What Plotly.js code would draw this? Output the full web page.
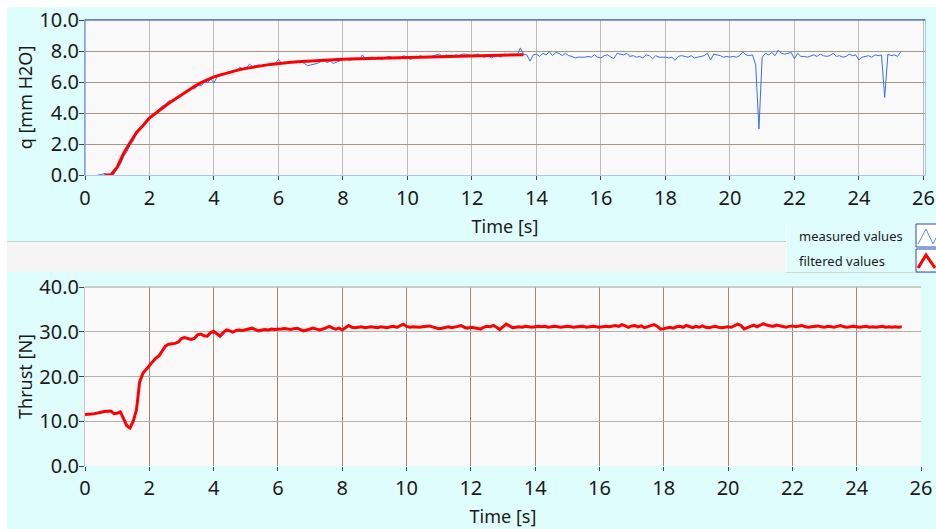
<!DOCTYPE html>
<html>
<head>
<meta charset="utf-8">
<script src="https://cdn.plot.ly/plotly-3.0.1.min.js"></script>
<style>html,body{margin:0;padding:0;background:#fff;}#chart{width:936px;height:529px;}</style>
</head>
<body>
<div id="chart"></div>
<script>
// ---- Data ----
// Pressure q [mm H2O], measured, sampled every 0.1 s starting at 0.4 s
const qMeasuredStart = 0.4;
const qMeasuredStep = 0.1;
const qMeasured = [
  0, 0.02, 0.1, 0, 0, 0.05,
  0.45, 0.7, 1.2, 1.5, 1.95, 2.2, 2.7, 3.05, 3.2, 3.5,
  3.65, 3.85, 4.1, 4.25, 4.45, 4.55, 4.8, 4.7, 4.95, 5.1,
  5.15, 5.35, 5.4, 5.6, 5.55, 5.85, 5.75, 6.0, 5.95, 6.2,
  5.95, 6.35, 6.45, 6.55, 6.6, 6.65, 6.75, 6.7, 6.95, 6.85,
  6.9, 7.15, 7.0, 7.05, 7.1, 7.0, 7.1, 7.15, 7.1, 7.2,
  7.45, 7.2, 7.25, 7.2, 7.3, 7.25, 7.35, 7.3, 7.2, 7.05,
  7.1, 7.15, 7.2, 7.3, 7.45, 7.25, 7.35, 7.2, 7.3, 7.4,
  7.45, 7.5, 7.4, 7.45, 7.55, 7.45, 7.75, 7.5, 7.55, 7.6,
  7.5, 7.6, 7.45, 7.55, 7.65, 7.6, 7.5, 7.55, 7.6, 7.7,
  7.55, 7.45, 7.6, 7.55, 7.7, 7.6, 7.65, 7.6, 7.7, 7.75,
  7.8, 7.6, 7.75, 7.7, 7.65, 7.75, 7.7, 7.8, 7.8, 7.75,
  7.7, 7.75, 7.8, 7.65, 7.6, 7.7, 7.55, 7.65, 7.7, 7.6,
  7.8, 7.75, 7.7, 7.75, 7.7, 8.2, 7.8, 7.75, 7.35, 7.75,
  7.8, 7.65, 7.85, 7.75, 7.95, 7.7, 7.9, 7.85, 7.7, 7.85,
  7.7, 7.65, 7.55, 7.6, 7.6, 7.6, 7.65, 7.6, 7.75, 7.6,
  7.55, 7.7, 7.75, 7.65, 7.5, 7.85, 7.8, 7.75, 7.85, 7.65,
  7.7, 7.6, 7.65, 7.55, 7.75, 7.7, 7.5, 7.7, 7.6, 7.6,
  7.6, 7.55, 7.6, 7.4, 7.65, 7.7, 7.65, 7.6, 7.7, 7.55,
  7.6, 7.65, 7.7, 7.85, 7.42, 7.8, 7.75, 7.7, 7.6, 7.65,
  7.6, 7.65, 7.6, 7.7, 7.95, 7.75, 7.7, 7.75, 7.1, 2.97,
  7.6, 7.85, 7.75, 7.9, 7.7, 8.06, 7.85, 7.8, 7.85, 7.9,
  7.5, 7.85, 7.65, 7.65, 7.6, 7.7, 7.75, 7.65, 7.8, 7.7,
  7.65, 7.7, 7.85, 7.65, 7.7, 7.6, 7.65, 7.8, 7.7, 7.75,
  7.42, 7.6, 7.65, 7.7, 7.6, 7.75, 7.7, 7.75, 5.0, 7.8,
  7.7, 7.75, 7.65, 7.95
];

// Pressure q [mm H2O], filtered, every 0.2 s starting at 0.6 s
const qFilteredStart = 0.6;
const qFilteredStep = 0.2;
const qFiltered = [
  0, 0,
  0.5, 1.4, 2.1, 2.75, 3.2,
  3.68, 4.0, 4.34, 4.63, 4.9,
  5.18, 5.44, 5.72, 5.96, 6.16,
  6.33, 6.46, 6.59, 6.7, 6.8,
  6.88, 6.96, 7.03, 7.09, 7.15,
  7.2, 7.24, 7.27, 7.3, 7.33,
  7.35, 7.37, 7.39, 7.42, 7.44,
  7.46, 7.48, 7.49, 7.51, 7.52,
  7.54, 7.55, 7.56, 7.57, 7.58,
  7.59, 7.6, 7.61, 7.62, 7.63,
  7.64, 7.65, 7.66, 7.67, 7.68,
  7.69, 7.7, 7.71, 7.72, 7.73,
  7.73, 7.74, 7.75, 7.76
];

// Thrust [N], filtered, every 0.1 s starting at 0 s
const thrustStart = 0;
const thrustStep = 0.1;
const thrust = [
  11.5, 11.5, 11.6, 11.7, 11.8, 12.0, 12.2, 12.3, 12.3, 11.7,
  11.8, 12.1, 10.6, 9.0, 8.5, 10.0, 12.5, 18.8, 20.7, 21.6,
  22.3, 23.3, 24.1, 24.6, 25.6, 26.8, 27.2, 27.3, 27.4, 27.7,
  28.5, 28.7, 28.5, 28.3, 28.5, 29.3, 29.5, 29.1, 29.0, 29.8,
  30.1, 29.6, 29.0, 29.8, 30.4, 30.2, 29.9, 30.3, 30.4, 30.3,
  30.5, 30.6, 30.8, 30.5, 30.2, 30.4, 30.5, 30.4, 30.6, 30.5,
  30.5, 30.6, 30.7, 30.6, 30.5, 30.7, 30.8, 30.5, 30.2, 30.4,
  30.6, 30.8, 30.6, 30.4, 30.6, 30.9, 31.2, 30.8, 30.6, 30.8,
  30.4, 30.9, 31.4, 31.0, 30.9, 31.0, 31.1, 30.9, 31.0, 31.1,
  31.0, 30.9, 31.1, 31.0, 30.9, 31.1, 31.2, 31.0, 31.3, 31.7,
  31.2, 31.0, 31.1, 31.0, 31.0, 31.1, 31.2, 31.3, 31.1, 30.9,
  30.7, 30.8, 31.0, 31.1, 30.9, 31.0, 31.2, 31.4, 31.0, 30.8,
  31.0, 30.9, 30.7, 30.6, 31.0, 31.2, 31.1, 31.4, 31.0, 30.5,
  31.1, 31.7, 31.3, 30.9, 31.0, 31.1, 31.0, 31.2, 31.1, 31.0,
  31.1, 31.2, 31.1, 31.2, 31.0, 31.1, 31.2, 31.1, 31.0, 31.1,
  31.2, 31.1, 31.0, 31.1, 31.1, 31.2, 31.0, 31.1, 31.2, 31.1,
  31.0, 31.1, 31.2, 31.1, 31.3, 31.4, 31.2, 31.6, 31.3, 31.0,
  31.3, 31.4, 31.1, 31.3, 30.9, 31.1, 31.3, 31.6, 31.2, 30.6,
  30.7, 30.9, 31.0, 30.8, 31.1, 31.2, 31.0, 31.4, 31.1, 30.9,
  31.2, 31.0, 31.3, 31.0, 30.9, 31.1, 31.2, 31.0, 30.9, 31.0,
  31.1, 31.0, 31.3, 31.7, 31.4, 30.6, 30.9, 31.2, 31.5, 31.1,
  31.4, 31.8, 31.5, 31.3, 31.2, 31.5, 31.3, 31.1, 31.0, 31.2,
  31.3, 31.1, 31.2, 31.4, 31.1, 31.0, 31.1, 31.2, 31.3, 31.1,
  31.0, 31.2, 31.1, 31.0, 31.2, 31.4, 31.1, 31.0, 31.1, 31.2,
  31.1, 31.0, 31.1, 31.2, 31.0, 31.1, 31.0, 31.1, 31.2, 31.0,
  31.1, 31.0, 31.1, 31.0, 31.1
];

const legendLabels = ["measured values", "filtered values"];
const xTitle = "Time [s]";
const yTitleTop = "q [mm H2O]";
const yTitleBottom = "Thrust [N]";

// ---- Chart ----
const W = 936, H = 529;
const px = v => v / W;
const py = v => 1 - v / H;
const FONT = "Noto Sans, Open Sans, DejaVu Sans, sans-serif";

const traces = [
  {type: "scatter", mode: "lines", name: legendLabels[0],
   x0: qMeasuredStart, dx: qMeasuredStep, y: qMeasured,
   xaxis: "x", yaxis: "y", line: {color: "#3b6fe6", width: 1}},
  {type: "scatter", mode: "lines", name: legendLabels[1],
   x0: qFilteredStart, dx: qFilteredStep, y: qFiltered,
   xaxis: "x", yaxis: "y", line: {color: "#ff0000", width: 3}},
  {type: "scatter", mode: "lines", name: legendLabels[1],
   x0: thrustStart, dx: thrustStep, y: thrust,
   xaxis: "x2", yaxis: "y2", line: {color: "#ff0000", width: 3}}
];

const tickFont = {family: FONT, size: 20, color: "#1a1a1a"};
const titleFont = {family: FONT, size: 18, color: "#1a1a1a"};

const layout = {
  width: W, height: H,
  margin: {l: 0, r: 0, t: 0, b: 0},
  paper_bgcolor: "#e0fdfd",
  plot_bgcolor: "#f9f9f9",
  showlegend: false,
  font: {family: FONT, color: "#1a1a1a"},
  xaxis: {
    domain: [px(85), px(925)], anchor: "y", range: [0, 26.05],
    tick0: 0, dtick: 2, ticks: "outside", ticklen: 4, tickcolor: "#444",
    showline: true, linecolor: "#a9c6f2", mirror: true, linewidth: 1,
    showgrid: true, gridcolor: "#bcbcbc", zeroline: false,
    tickfont: tickFont, ticklabelstandoff: 1, fixedrange: true,
    title: {text: xTitle, font: titleFont, standoff: 10}
  },
  yaxis: {
    domain: [py(175), py(20)], anchor: "x", range: [0, 10],
    tick0: 0, dtick: 2, tickformat: ".1f", ticks: "outside", ticklen: 5, tickcolor: "#444",
    showline: true, linecolor: "#a9c6f2", mirror: true, linewidth: 1,
    showgrid: true, gridcolor: "#a69686", zeroline: false,
    tickfont: tickFont, ticklabelstandoff: -4, fixedrange: true,
    title: {text: yTitleTop, font: titleFont, standoff: 2}
  },
  xaxis2: {
    domain: [px(85), px(921)], anchor: "y2", range: [0, 26],
    tick0: 0, dtick: 2, ticks: "outside", ticklen: 4, tickcolor: "#444",
    showline: false, showgrid: true, gridcolor: "#9a897b", zeroline: false,
    tickfont: tickFont, ticklabelstandoff: 0, fixedrange: true,
    title: {text: xTitle, font: titleFont, standoff: 10}
  },
  yaxis2: {
    domain: [py(466), py(287)], anchor: "x2", range: [0, 40],
    tick0: 0, dtick: 10, tickformat: ".1f", ticks: "outside", ticklen: 5, tickcolor: "#444",
    showline: true, linecolor: "#c4c4c4", linewidth: 1,
    showgrid: true, gridcolor: "#b9afa7", zeroline: false,
    tickfont: tickFont, ticklabelstandoff: -4, fixedrange: true,
    title: {text: yTitleBottom, font: titleFont, standoff: 2}
  },
  shapes: [
    // white margins of the window
    {type: "rect", xref: "paper", yref: "paper", x0: 0, x1: 1, y0: py(7), y1: 1,
     fillcolor: "#ffffff", line: {width: 0}, layer: "below"},
    {type: "rect", xref: "paper", yref: "paper", x0: 0, x1: px(7), y0: 0, y1: 1,
     fillcolor: "#ffffff", line: {width: 0}, layer: "below"},
    // grey band between the two graphs
    {type: "rect", xref: "paper", yref: "paper", x0: px(7), x1: px(786), y0: py(272), y1: py(241),
     fillcolor: "#f5f5f5", line: {width: 0}, layer: "below"},
    {type: "line", xref: "paper", yref: "paper", x0: px(7), x1: px(786), y0: py(241.5), y1: py(241.5),
     line: {color: "#c6d2d2", width: 1}, layer: "below"},
    {type: "line", xref: "paper", yref: "paper", x0: px(786), x1: px(936), y0: py(272.5), y1: py(272.5),
     line: {color: "#cfdada", width: 1}, layer: "below"},
    {type: "line", xref: "paper", yref: "paper", x0: px(786.5), x1: px(786.5), y0: py(272), y1: py(223),
     line: {color: "#f2ffff", width: 1}, layer: "below"},
    // graph borders
    {type: "line", xref: "x domain", yref: "y domain", x0: 0, x1: 1, y0: 1, y1: 1,
     line: {color: "#22408e", width: 1}, layer: "above"},
    {type: "line", xref: "x domain", yref: "y domain", x0: 0, x1: 0, y0: 0, y1: 1,
     line: {color: "#5b7fd0", width: 1}, layer: "above"},
    {type: "line", xref: "x2 domain", yref: "y2 domain", x0: 0, x1: 1, y0: 1, y1: 1,
     line: {color: "#bdbdbd", width: 1.5}, layer: "above"},
    // legend symbol boxes
    {type: "rect", xref: "paper", yref: "paper", x0: px(916), x1: px(940), y0: py(247), y1: py(224),
     fillcolor: "#ffffff", line: {color: "#2a48b0", width: 1}},
    {type: "rect", xref: "paper", yref: "paper", x0: px(916), x1: px(940), y0: py(272), y1: py(249),
     fillcolor: "#ffffff", line: {color: "#2a48b0", width: 1}},
    {type: "path", xref: "paper", yref: "paper",
     path: `M ${px(918)} ${py(244)} L ${px(926)} ${py(229)} L ${px(933)} ${py(244)} L ${px(936)} ${py(238)}`,
     line: {color: "#5a86e8", width: 1}},
    {type: "path", xref: "paper", yref: "paper",
     path: `M ${px(918)} ${py(268)} L ${px(926)} ${py(255)} L ${px(935)} ${py(268)}`,
     line: {color: "#ff0000", width: 3}}
  ],
  annotations: [
    {xref: "paper", yref: "paper", x: px(797), y: py(236), xanchor: "left", yanchor: "middle",
     text: legendLabels[0], showarrow: false, font: {family: FONT, size: 13, color: "#1a1a1a"}},
    {xref: "paper", yref: "paper", x: px(797), y: py(261), xanchor: "left", yanchor: "middle",
     text: legendLabels[1], showarrow: false, font: {family: FONT, size: 13, color: "#1a1a1a"}}
  ]
};

Plotly.newPlot("chart", traces, layout, {displayModeBar: false, staticPlot: true});
</script>
</body>
</html>
